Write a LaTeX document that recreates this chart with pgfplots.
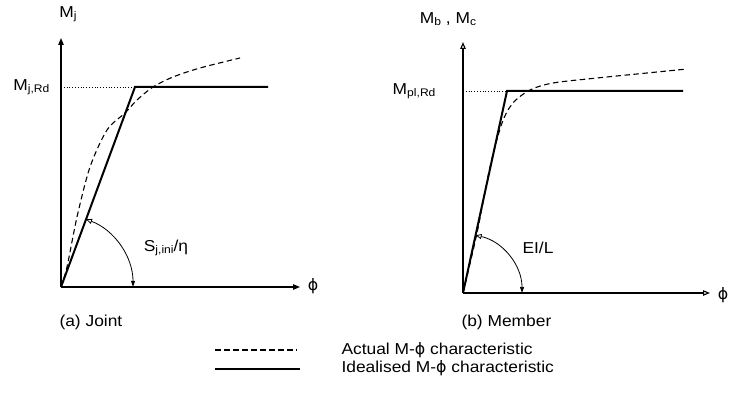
\documentclass[border=0pt]{standalone}
\usepackage{pgfplots}
\pgfplotsset{compat=1.18}
\usepackage{fontspec}
\setmainfont[FakeStretch=1.1]{Liberation Sans}
\newfontfamily\phifont[FakeStretch=1.0]{DejaVu Sans}
\newcommand\ph{{\phifont ϕ}}
\newcommand\sub[1]{\raisebox{-0.3ex}{\fontsize{11}{12}\selectfont #1}}
\usetikzlibrary{arrows.meta}
\begin{document}
\begin{tikzpicture}[x=1pt,y=1pt,font=\fontsize{15.8}{18}\selectfont]
\path[use as bounding box] (0,0) rectangle (731,402);
% ---------- (a) Joint ----------
\begin{axis}[
  at={(61pt,115pt)}, anchor=origin,
  x=1pt, y=1pt,
  xmin=0, xmax=239, ymin=0, ymax=249,
  axis lines=left,
  axis line style={line width=1.1pt, -{Triangle[length=7pt,width=5.5pt]}},
  ticks=none,
  clip=false,
]
\addplot[black, line width=1.1pt, dash pattern=on 5.5pt off 3.5pt, smooth, tension=0.5]
 coordinates {(0,0) (6,20) (16,70) (29,120) (46,157) (64,174) (76,187) (92,200) (112,210) (139,219) (179,229)};
\addplot[black, line width=2pt] coordinates {(0,0) (74,200) (207,200)};
\addplot[black, line width=0.8pt, dotted] coordinates {(0,200) (74,200)};
\draw[line width=0.8pt, {Triangle[open,length=6pt,width=5pt]}-{Triangle[length=6pt,width=4pt]}]
  (axis cs:25.0,67.7) arc[start angle=69.7, end angle=0, radius=72pt];
\node[anchor=east] at (axis cs:-8,200) {M\sub{j,Rd}};
\node at (axis cs:7,273) {M\sub{j}};
\node at (axis cs:105,39) {S\sub{j,ini}/η};
\node at (axis cs:252,1) {\ph};
\node[anchor=west] at (axis cs:-5,-35) {(a) Joint};
\end{axis}
% ---------- (b) Member ----------
\begin{axis}[
  at={(463pt,109pt)}, anchor=origin,
  x=1pt, y=1pt,
  xmin=0, xmax=247, ymin=0, ymax=251,
  axis lines=left,
  axis line style={line width=1.1pt, -{Triangle[open,length=7pt,width=5.5pt]}},
  ticks=none,
  clip=false,
]
\addplot[black, line width=1.1pt, dash pattern=on 5.5pt off 3.5pt, smooth, tension=0.5]
 coordinates {(0,0) (14,60) (27,126) (39,170) (50,190) (67,203) (90,210) (134,215) (184,220) (224,224)};
\addplot[black, line width=2pt] coordinates {(0,0) (44,202) (220,202)};
\addplot[black, line width=0.8pt, dotted] coordinates {(0,202) (44,202)};
\draw[line width=0.8pt, {Triangle[open,length=6pt,width=5pt]}-{Triangle[length=6pt,width=4pt]}]
  (axis cs:12.6,57.7) arc[start angle=77.7, end angle=0, radius=59pt];
\node[anchor=east] at (axis cs:-24,202) {M\sub{pl,Rd}};
\node at (axis cs:-15,274) {M\sub{b} , M\sub{c}};
\node at (axis cs:75,45) {EI/L};
\node at (axis cs:260,-2) {\ph};
\node[anchor=west] at (axis cs:-5,-29) {(b) Member};
\end{axis}
% ---------- legend ----------
\draw[line width=1.1pt, dash pattern=on 5.5pt off 3.5pt] (215,52) -- (297,52);
\draw[line width=2pt] (215,33) -- (300,33);
\node[anchor=west] at (338,52) {Actual M-\ph\ characteristic};
\node[anchor=west] at (338,34) {Idealised M-\ph\ characteristic};
\end{tikzpicture}
\end{document}
